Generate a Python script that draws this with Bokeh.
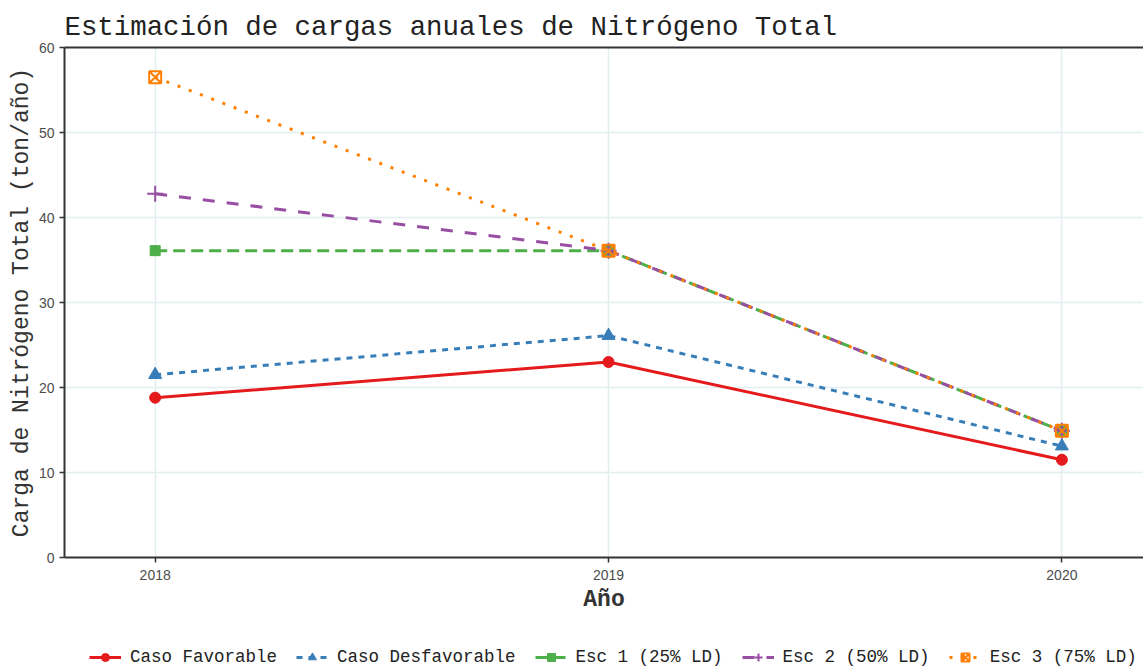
from bokeh.plotting import figure
from bokeh.layouts import column, row, Spacer
from bokeh.models import Range1d, LinearAxis, Legend, LegendItem, FixedTicker
from bokeh.embed import file_html
from bokeh.resources import INLINE

years = [2018, 2019, 2020]
favorable = [18.8, 23.0, 11.5]
desfavorable = [21.5, 26.1, 13.1]
esc1 = [36.1, 36.1, 14.9]
esc2 = [42.8, 36.1, 14.9]
esc3 = [56.5, 36.1, 14.9]

series_names = ["Caso Favorable", "Caso Desfavorable", "Esc 1 (25% LD)",
                "Esc 2 (50% LD)", "Esc 3 (75% LD)"]
y_ticks = [0, 10, 20, 30, 40, 50, 60]

MONO = "Liberation Mono"
SANS = "Liberation Sans"

p = figure(width=1138, height=629, output_backend="svg", toolbar_location=None,
           x_range=Range1d(2017.8, 2020.18), y_range=Range1d(0, 60),
           min_border_left=57, min_border_right=0, min_border_top=47,
           min_border_bottom=72, x_axis_location=None, y_axis_location=None)
p.outline_line_color = None
p.background_fill_color = "white"

p.title.text = "Estimación de cargas anuales de Nitrógeno Total"
p.title.text_font = MONO
p.title.text_font_size = "27.4px"
p.title.text_font_style = "normal"
p.title.text_color = "#222222"
p.title.align = "left"
p.title.offset = 0
p.title.standoff = 10

def style_axis(ax):
    ax.axis_line_color = "#333333"
    ax.axis_line_width = 2
    ax.major_tick_line_color = "#333333"
    ax.major_tick_line_width = 1.5
    ax.major_tick_out = 5
    ax.major_tick_in = 0
    ax.minor_tick_line_color = None
    ax.major_label_text_font = SANS
    ax.major_label_text_font_size = "14px"
    ax.major_label_text_color = "#4D4D4D"
    ax.axis_label_text_font = MONO
    ax.axis_label_text_font_size = "23px"
    ax.axis_label_text_color = "#333333"
    ax.axis_label_text_font_style = "normal"

xaxis = LinearAxis(ticker=FixedTicker(ticks=years), axis_label="Año")
style_axis(xaxis)
xaxis.major_label_standoff = 7
xaxis.axis_label_standoff = 4
xaxis.axis_label_text_font_style = "bold"
p.add_layout(xaxis, "below")

yaxis = LinearAxis(ticker=FixedTicker(ticks=y_ticks), axis_label="Carga de Nitrógeno Total (ton/año)")
style_axis(yaxis)
yaxis.major_label_standoff = 5
yaxis.axis_label_standoff = 1
p.add_layout(yaxis, "left")

top = LinearAxis(ticker=FixedTicker(ticks=[]))
top.axis_line_color = "#333333"
top.axis_line_width = 2
top.major_tick_line_color = None
top.minor_tick_line_color = None
top.major_label_text_font_size = "0px"
p.add_layout(top, "above")

p.xgrid.ticker = FixedTicker(ticks=years)
p.ygrid.ticker = FixedTicker(ticks=y_ticks)
for g in (p.xgrid, p.ygrid):
    g.grid_line_color = "#E3EEEE"
    g.grid_line_width = 1.5
p.xgrid.minor_grid_line_color = None
p.ygrid.minor_grid_line_color = None

colors = ["#E41A1C", "#377EB8", "#4DAF4A", "#984EA3", "#FF7F00"]
dashes = ["solid", "6 6", "12 6", "12 12", "3 9"]
markers = ["circle", "triangle", "square", "cross", "square_x"]
msizes = [11, 13, 10, 16, 12]
values = [favorable, desfavorable, esc1, esc2, esc3]

# legend strip: a small figure whose ranges keep its copies of the series out of view,
# so that only the legend keys are drawn
lf = figure(width=1138, height=38, output_backend="svg", toolbar_location=None,
            x_range=Range1d(2017.8, 2020.18), y_range=Range1d(1000, 1001),
            min_border_left=57, min_border_right=0, min_border_top=0,
            min_border_bottom=0, x_axis_location=None, y_axis_location=None)
lf.outline_line_color = None
lf.xgrid.visible = False
lf.ygrid.visible = False

def add_marker(fig, i, xs, ys):
    c = colors[i]
    m = markers[i]
    if m in ("cross", "square_x"):
        return fig.scatter(xs, ys, marker=m, size=msizes[i], fill_color=None,
                           line_color=c, line_width=2)
    return fig.scatter(xs, ys, marker=m, size=msizes[i], fill_color=c, line_color=c)

items = []
for i, (name, vals) in enumerate(zip(series_names, values)):
    c = colors[i]
    p.line(years, vals, line_color=c, line_width=3, line_dash=dashes[i])
    add_marker(p, i, years, vals)
    l_line = lf.line(years, vals, line_color=c, line_width=3, line_dash=dashes[i])
    l_m = add_marker(lf, i, years, vals)
    items.append(LegendItem(label=name, renderers=[l_line, l_m]))

legend = Legend(items=items, orientation="horizontal", location=(25, 0))
legend.label_text_font = MONO
legend.label_text_font_size = "17.5px"
legend.label_text_color = "#222222"
legend.glyph_width = 32
legend.glyph_height = 20
legend.label_standoff = 9
legend.spacing = 19
legend.padding = 0
legend.margin = 0
legend.border_line_color = None
legend.background_fill_alpha = 0
lf.add_layout(legend, "center")

layout = row(Spacer(width=5, height=667), column(p, lf, spacing=0), spacing=0)
open("out.html", "w").write(file_html(layout, INLINE))
